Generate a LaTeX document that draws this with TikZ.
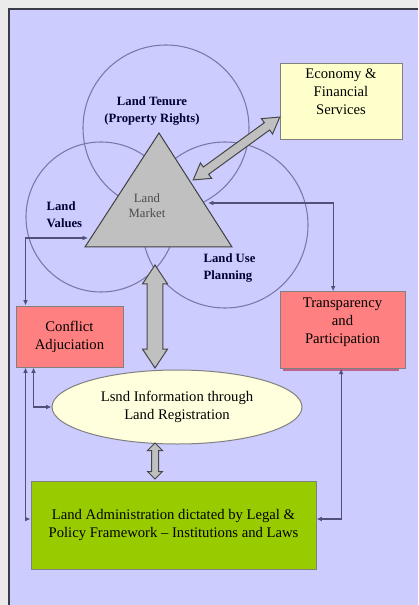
\documentclass[tikz,border=0pt]{standalone}
\usepackage{fontspec}
\setmainfont{Liberation Serif}
\usetikzlibrary{arrows.meta}
\usetikzlibrary{shapes.geometric}
\usetikzlibrary{shapes.arrows}

\definecolor{lavender}{RGB}{204,204,255}
\definecolor{framecol}{RGB}{60,60,72}
\definecolor{ring}{RGB}{120,120,170}
\definecolor{linkcol}{RGB}{80,80,120}
\definecolor{pinkred}{RGB}{255,128,128}
\definecolor{shadowcol}{RGB}{190,100,140}
\definecolor{paleyellow}{RGB}{255,255,204}
\definecolor{cream}{RGB}{255,255,222}
\definecolor{leafgreen}{RGB}{153,204,0}
\definecolor{marketgray}{RGB}{192,192,192}

\tikzset{
  box/.style={draw=gray, line width=0.75pt, font=\fontsize{11}{13.5}\selectfont, align=center, inner sep=0pt},
  topbox/.style={box, text height=38.5pt, text depth=18.75pt},
  lbl/.style={font=\fontsize{9.5}{12.5}\selectfont\bfseries, text=black!80!blue, align=left},
  link/.style={draw=linkcol, line width=0.8pt, {Latex[length=4pt,width=3.5pt]}-{Latex[length=4pt,width=3.5pt]}},
  fat/.style={double arrow, draw=gray!55!black, fill=marketgray, line width=0.75pt, inner xsep=0pt},
}

\begin{document}
\begin{tikzpicture}[x=0.75pt,y=-0.75pt]
        \useasboundingbox (0,0) rectangle (418,605);
        \fill[black!8] (0,0) rectangle (418,605);
        \fill[lavender] (9,9) rectangle (418,605);
        \draw[framecol,line width=2pt] (9,605) -- (9,9) -- (418,9);

        % the three circles round the market
        \draw[ring,line width=0.8pt] (166,128) circle (83);
        \draw[ring,line width=0.8pt] (101,217) circle (75);
        \draw[ring,line width=0.8pt] (225,225) circle (83);

        \draw[fill=marketgray,draw=gray!50!black,line width=0.75pt] (159,133) -- (232,247) -- (85,247) -- cycle;
        \node[font=\fontsize{9.5}{11.3}\selectfont,text=black!70,align=center] (mkt) at (147,206) {Land\\Market};

        \node[lbl,align=center] (ten) at (152,111) {Land Tenure\\(Property Rights)};
        \node[lbl,anchor=west] (val) at (42,215) {Land\\Values};
        \node[lbl,anchor=west] (use) at (199,268) {Land Use\\Planning};

        % boxes
        \node[topbox,fill=paleyellow,minimum width=91.5pt] (eco) at (341,101.5) {Economy \&\\Financial\\Services};
        \fill[shadowcol] (283,300) rectangle (399,371);
        \node[topbox,fill=pinkred,minimum width=93.75pt] (tra) at (342.5,330) {Transparency\\and\\Participation};
        \node[box,fill=pinkred,minimum width=80.25pt,minimum height=45.75pt] (con) at (69.5,336.5) {Conflict\\Adjuciation};
        \node[box,ellipse,fill=cream,minimum width=187.5pt,minimum height=55.5pt] (info) at (177,407) {Lsnd Information through\\Land Registration};
        \node[box,fill=leafgreen,minimum width=213.75pt,minimum height=66pt] (adm) at (173.5,525) {Land Administration dictated by Legal \&\\Policy Framework -- Institutions and Laws};

        % fat arrows
        \node[fat,minimum height=80.25pt,inner ysep=3pt,double arrow head extend=3.75pt,double arrow tip angle=62,rotate=36] (arrD) at (236.5,148.5) {};
        \node[fat,minimum height=77.25pt,inner ysep=5.6pt,double arrow head extend=3.4pt,double arrow tip angle=67,rotate=90] (arrV) at (155,316.5) {};
        \node[fat,minimum height=27pt,inner ysep=2.25pt,double arrow head extend=3pt,double arrow tip angle=90,rotate=90] (arrS) at (155,461) {};

        % thin links
        \coordinate (mktR) at (208,203);
        \coordinate (mktL) at (88,238);
        \draw[link] (mktR) -| ([xshift=-7pt]tra.north);
        \draw[link] ([xshift=7.5pt]con.north west) |- (mktL);
        \draw[link] ([xshift=13.5pt]con.south west) |- (info.west);
        \draw[link] ([xshift=7.5pt]con.south west) |- ([yshift=4.5pt]adm.west);
        \draw[link] ([xshift=-1pt]tra.south) |- ([yshift=4.5pt]adm.east);
    \end{tikzpicture}
\end{document}
